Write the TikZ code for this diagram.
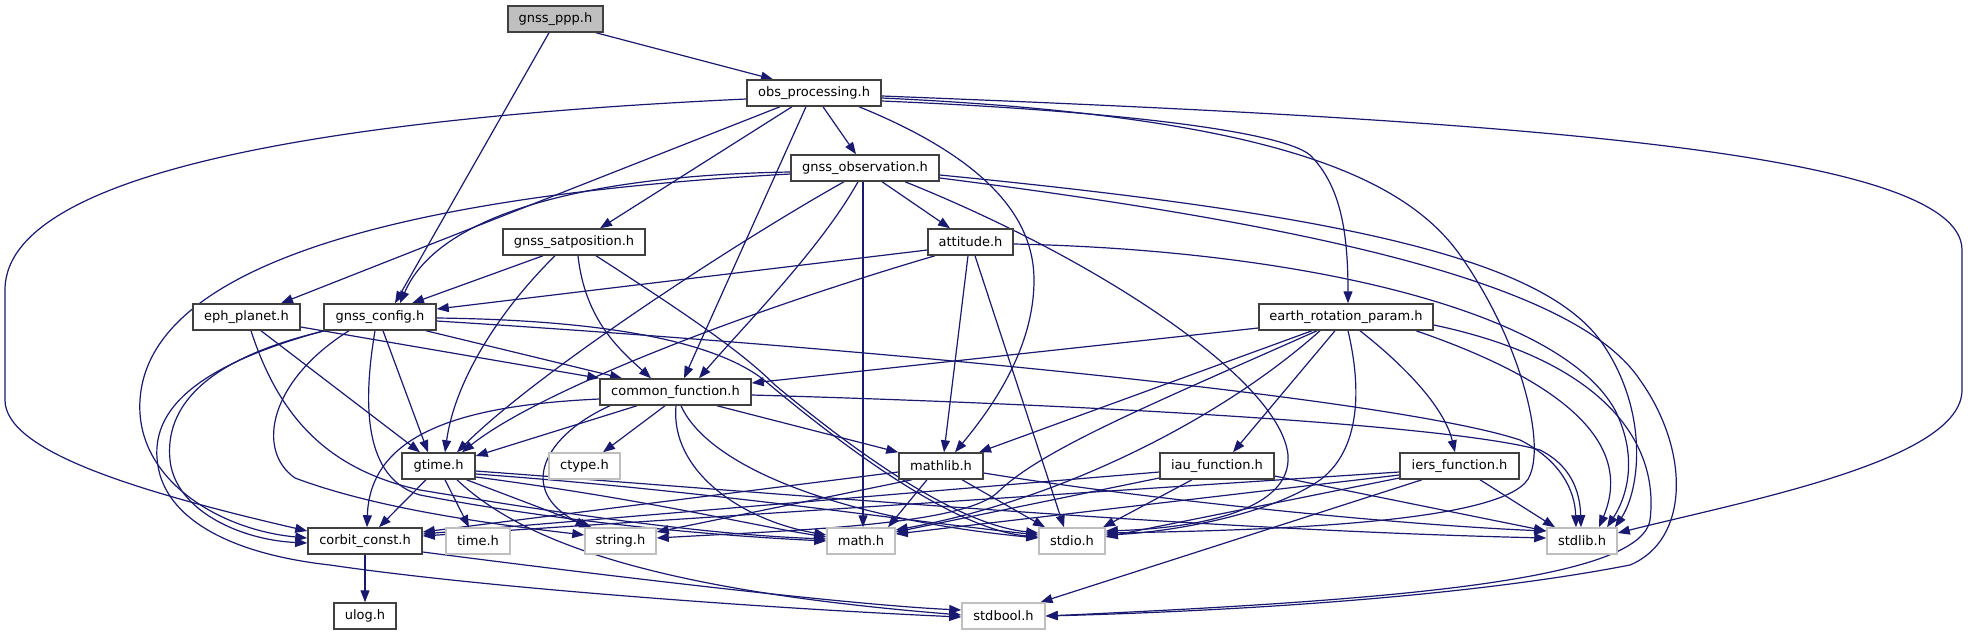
\documentclass[tikz,border=0pt]{standalone}
\usepackage{fontspec}
\setmainfont{DejaVu Sans}
\usetikzlibrary{arrows.meta,backgrounds}
\definecolor{navy}{HTML}{191970}
\newcommand\hdrfont{\fontsize{13pt}{15pt}\selectfont}
\tikzset{
 hdr/.style={draw=black!75, line width=1.5pt, fill=white, minimum height=26pt, inner sep=0pt, font=\hdrfont},
 sys/.style={hdr, draw=black!25},
 topnode/.style={hdr, fill=black!25},
 dep/.style={draw=navy, line width=1.2pt, -{Triangle[length=12pt,width=9pt]}},
}
\begin{document}
\begin{tikzpicture}[x=1pt,y=-1pt]
\useasboundingbox (0,0) rectangle (1968,635);
\node[topnode, minimum width=95pt] (ppp) at (555.5,19) {gnss\_ppp.h};
\node[hdr, minimum width=134pt] (obs) at (814,93) {obs\_processing.h};
\node[hdr, minimum width=148pt] (obsv) at (865,168) {gnss\_observation.h};
\node[hdr, minimum width=142pt] (sat) at (574,242) {gnss\_satposition.h};
\node[hdr, minimum width=85pt] (att) at (970.5,242) {attitude.h};
\node[hdr, minimum width=107pt] (eph) at (246.5,317) {eph\_planet.h};
\node[hdr, minimum width=112pt] (cfg) at (380,317) {gnss\_config.h};
\node[hdr, minimum width=174pt] (erp) at (1346,317) {earth\_rotation\_param.h};
\node[hdr, minimum width=151pt] (cf) at (675.5,392) {common\_function.h};
\node[hdr, minimum width=73pt] (gtime) at (438.5,466) {gtime.h};
\node[sys, minimum width=71pt] (ctype) at (584.5,466) {ctype.h};
\node[hdr, minimum width=84pt] (mathlib) at (941,466) {mathlib.h};
\node[hdr, minimum width=114pt] (iau) at (1217,466) {iau\_function.h};
\node[hdr, minimum width=119pt] (iers) at (1459.5,466) {iers\_function.h};
\node[hdr, minimum width=114pt] (corbit) at (365,541) {corbit\_const.h};
\node[sys, minimum width=64pt] (time) at (478,541) {time.h};
\node[sys, minimum width=71pt] (string) at (620.5,541) {string.h};
\node[sys, minimum width=68pt] (math) at (861,541) {math.h};
\node[sys, minimum width=66pt] (stdio) at (1072,541) {stdio.h};
\node[sys, minimum width=70pt] (stdlib) at (1582,541) {stdlib.h};
\node[hdr, minimum width=62pt] (ulog) at (365,616) {ulog.h};
\node[sys, minimum width=83pt] (stdbool) at (1003.5,616) {stdbool.h};
\begin{pgfonlayer}{background}
% gnss_ppp.h
\draw[dep] ([xshift=40.5pt]ppp.south) -- ([xshift=-41pt]obs.north);
\draw[dep] ([xshift=-6.5pt]ppp.south) -- ([xshift=15pt]cfg.north);
% obs_processing.h
\draw[dep] ([yshift=-6pt]obs.west) .. controls (400,115) and (5,160) .. (5,290) -- (5,400) .. controls (5,450) and (130,490) .. ([yshift=10pt]corbit.west);
\draw[dep] ([xshift=-34pt]obs.south) -- ([xshift=34.5pt]eph.north);
\draw[dep] ([xshift=-22pt]obs.south) -- ([xshift=26pt]sat.north);
\draw[dep] ([xshift=-8pt]obs.south) -- ([xshift=8.5pt]cf.north);
\draw[dep] ([xshift=9pt]obs.south) -- ([xshift=-9pt]obsv.north);
\draw[dep] ([xshift=45pt]obs.south) .. controls (990,160) and (1034,220) .. (1034,280) .. controls (1034,350) and (990,410) .. ([xshift=14pt]mathlib.north);
\draw[dep] ([yshift=-8pt]obs.east) .. controls (1100,110) and (1280,130) .. (1310,155) .. controls (1340,185) and (1348,230) .. ([xshift=2pt]erp.north);
\draw[dep] ([yshift=-3pt]obs.east) .. controls (1500,120) and (1962,150) .. (1962,250) -- (1962,390) .. controls (1962,460) and (1750,500) .. ([yshift=8pt]stdlib.east);
\draw[dep] ([yshift=-5pt]obs.east) .. controls (1250,115) and (1400,170) .. (1460,255) .. controls (1520,340) and (1545,440) .. (1530,475) .. controls (1515,520) and (1300,530) .. ([yshift=8pt]stdio.east);
% gnss_observation.h
\draw[dep] ([yshift=-4pt]obsv.west) .. controls (600,175) and (440,210) .. ([xshift=20pt]cfg.north);
\draw[dep] ([yshift=-6pt]obsv.west) .. controls (500,190) and (150,240) .. (140,400) .. controls (135,480) and (220,530) .. ([yshift=3pt]corbit.west);
\draw[dep] ([xshift=-21pt]obsv.south) .. controls (740,240) and (540,370) .. ([xshift=18.5pt]gtime.north);
\draw[dep] ([xshift=-7pt]obsv.south) .. controls (820,250) and (740,330) .. ([xshift=23.5pt]cf.north);
\draw[dep] ([xshift=-2pt]obsv.south) -- ([xshift=2pt]math.north);
\draw[dep] ([xshift=17pt]obsv.south) -- ([xshift=-20.5pt]att.north);
\draw[dep] ([xshift=40pt]obsv.south) .. controls (1100,260) and (1280,380) .. (1288,455) .. controls (1292,510) and (1200,528) .. ([yshift=10pt]stdio.east);
\draw[dep] ([yshift=-7pt]obsv.east) .. controls (1350,215) and (1540,260) .. (1600,340) .. controls (1650,410) and (1640,490) .. ([xshift=33pt]stdlib.north);
\draw[dep] ([yshift=-10pt]obsv.east) .. controls (1350,230) and (1580,290) .. (1640,380) .. controls (1690,450) and (1690,540) .. (1630,565) .. controls (1450,600) and (1200,612) .. (stdbool.east);
% attitude.h
\draw[dep] ([yshift=-8pt]att.west) -- ([yshift=8pt]cfg.east);
\draw[dep] ([xshift=-35.5pt]att.south) .. controls (750,310) and (540,390) .. ([xshift=23.5pt]gtime.north);
\draw[dep] ([xshift=-2.5pt]att.south) -- ([xshift=3pt]mathlib.north);
\draw[dep] ([xshift=4.5pt]att.south) -- ([xshift=-8pt]stdio.north);
\draw[dep] ([yshift=-2pt]att.east) .. controls (1300,250) and (1560,310) .. (1615,410) .. controls (1640,460) and (1625,500) .. ([xshift=25pt]stdlib.north);
% gnss_satposition.h
\draw[dep] ([xshift=-31pt]sat.south) -- ([xshift=32pt]cfg.north);
\draw[dep] ([xshift=-19pt]sat.south) .. controls (500,310) and (455,380) .. ([xshift=6.5pt]gtime.north);
\draw[dep] ([xshift=4pt]sat.south) .. controls (585,320) and (620,350) .. ([xshift=-24.5pt]cf.north);
\draw[dep] ([xshift=22pt]sat.south) .. controls (680,310) and (740,350) .. (775,385) .. controls (865,460) and (960,525) .. ([yshift=8pt]stdio.west);
% gnss_config.h
\draw[dep] ([xshift=46pt]cfg.south) -- ([xshift=-53.5pt]cf.north);
\draw[dep] ([xshift=3pt]cfg.south) -- ([xshift=-10.5pt]gtime.north);
\draw[dep] ([xshift=-55pt]cfg.south) .. controls (200,360) and (165,410) .. (170,460) .. controls (175,510) and (240,540) .. ([yshift=-2pt]corbit.west);
\draw[dep] ([xshift=-56pt]cfg.south) .. controls (180,370) and (145,420) .. (160,475) .. controls (175,525) and (240,555) .. (330,565) .. controls (500,590) and (800,610) .. ([yshift=-1pt]stdbool.west);
\draw[dep] ([xshift=-31pt]cfg.south) .. controls (270,380) and (255,450) .. (295,478) .. controls (380,510) and (500,525) .. ([yshift=6pt]string.west);
\draw[dep] ([xshift=-5pt]cfg.south) .. controls (360,420) and (370,480) .. (420,495) .. controls (550,520) and (700,535) .. (math.west);
\draw[dep] ([yshift=-1pt]cfg.east) .. controls (600,320) and (720,340) .. (770,385) .. controls (860,460) and (960,530) .. ([yshift=4pt]stdio.west);
\draw[dep] ([yshift=-4pt]cfg.east) .. controls (900,350) and (1400,400) .. (1520,440) .. controls (1560,460) and (1575,490) .. ([xshift=-6pt]stdlib.north);
% eph_planet.h
\draw[dep] ([yshift=-10pt]eph.east) -- (cf.north west);
\draw[dep] ([xshift=14.5pt]eph.south) -- ([xshift=-18.5pt]gtime.north);
\draw[dep] ([xshift=4.5pt]eph.south) .. controls (280,420) and (330,470) .. (420,490) .. controls (600,520) and (720,535) .. ([yshift=2pt]math.west);
% common_function.h
\draw[dep] ([yshift=-7pt]cf.west) .. controls (470,405) and (370,430) .. ([xshift=2pt]corbit.north);
\draw[dep] ([xshift=-38.5pt]cf.south) -- ([yshift=10pt]gtime.east);
\draw[dep] ([xshift=-65.5pt]cf.south) .. controls (545,435) and (515,490) .. ([xshift=-33pt]string.north);
\draw[dep] ([xshift=-10.5pt]cf.south) -- ([xshift=18.5pt]ctype.north);
\draw[dep] ([xshift=0.5pt]cf.south) .. controls (670,470) and (740,520) .. ([yshift=6pt]math.west);
\draw[dep] ([xshift=5.5pt]cf.south) .. controls (710,470) and (850,520) .. ([yshift=3pt]stdio.west);
\draw[dep] ([xshift=41.5pt]cf.south) -- (mathlib.north west);
\draw[dep] ([yshift=-3pt]cf.east) .. controls (1100,405) and (1450,425) .. (1540,450) .. controls (1570,465) and (1580,490) .. ([xshift=-1pt]stdlib.north);
% gtime.h
\draw[dep] ([xshift=-12.5pt]gtime.south) -- ([xshift=14pt]corbit.north);
\draw[dep] ([xshift=6.5pt]gtime.south) -- ([xshift=-9pt]time.north);
\draw[dep] ([xshift=28pt]gtime.south) -- ([xshift=-29pt]string.north);
\draw[dep] ([xshift=18.5pt]gtime.south) .. controls (520,540) and (650,590) .. ([yshift=1pt]stdbool.west);
\draw[dep] ([yshift=-11pt]gtime.east) .. controls (650,500) and (750,525) .. ([yshift=4pt]math.west);
\draw[dep] ([yshift=-8pt]gtime.east) .. controls (700,490) and (900,520) .. ([yshift=6pt]stdio.west);
\draw[dep] ([yshift=-5pt]gtime.east) .. controls (800,495) and (1200,530) .. ([yshift=3pt]stdlib.west);
% mathlib.h
\draw[dep] ([yshift=-6pt]mathlib.west) -- ([yshift=9pt]corbit.east);
\draw[dep] ([xshift=-29pt]mathlib.south) -- ([yshift=9pt]string.east);
\draw[dep] ([xshift=-14pt]mathlib.south) -- ([xshift=27pt]math.north);
\draw[dep] ([xshift=21pt]mathlib.south) -- ([xshift=-27pt]stdio.north);
\draw[dep] ([yshift=-7pt]mathlib.east) .. controls (1150,500) and (1400,525) .. ([yshift=10pt]stdlib.west);
% corbit_const.h
\draw[dep] (corbit.south) -- (ulog.north);
\draw[dep] ([yshift=-11pt]corbit.east) .. controls (600,575) and (850,605) .. ([yshift=6pt]stdbool.west);
% earth_rotation_param.h
\draw[dep] ([yshift=-11pt]erp.west) -- ([yshift=9pt]cf.east);
\draw[dep] ([xshift=-34pt]erp.south) -- ([xshift=38pt]mathlib.north);
\draw[dep] ([xshift=-29pt]erp.south) .. controls (1150,405) and (1040,450) .. (997,493) .. controls (960,525) and (800,530) .. ([yshift=3pt]string.east);
\draw[dep] ([xshift=-26pt]erp.south) .. controls (1220,420) and (1060,500) .. ([yshift=11pt]math.east);
\draw[dep] ([xshift=-11pt]erp.south) -- ([xshift=16pt]iau.north);
\draw[dep] ([xshift=2pt]erp.south) .. controls (1362,390) and (1360,450) .. (1320,480) .. controls (1270,515) and (1170,532) .. ([yshift=6pt]stdio.east);
\draw[dep] ([xshift=14pt]erp.south) .. controls (1410,370) and (1445,410) .. ([xshift=-4.5pt]iers.north);
\draw[dep] ([xshift=70pt]erp.south) .. controls (1530,370) and (1640,430) .. ([xshift=17pt]stdlib.north);
\draw[dep] ([yshift=-8pt]erp.east) .. controls (1600,360) and (1660,440) .. (1650,520) .. controls (1640,580) and (1400,600) .. (stdbool.east);
% iau_function.h
\draw[dep] ([yshift=-6pt]iau.west) -- ([yshift=7pt]corbit.east);
\draw[dep] ([yshift=-12pt]iau.west) -- ([yshift=9pt]math.east);
\draw[dep] ([xshift=-25pt]iau.south) -- ([xshift=31pt]stdio.north);
\draw[dep] ([yshift=-10pt]iau.east) -- ([yshift=10pt]stdlib.west);
% iers_function.h
\draw[dep] ([yshift=-6pt]iers.west) -- ([yshift=5pt]corbit.east);
\draw[dep] ([yshift=-9pt]iers.west) -- ([yshift=7pt]math.east);
\draw[dep] ([yshift=-12pt]iers.west) -- ([yshift=4pt]stdio.east);
\draw[dep] ([xshift=-37.5pt]iers.south) -- ([xshift=37pt]stdbool.north);
\draw[dep] ([xshift=20.5pt]iers.south) -- ([xshift=-27pt]stdlib.north);
\end{pgfonlayer}
\end{tikzpicture}
\end{document}
